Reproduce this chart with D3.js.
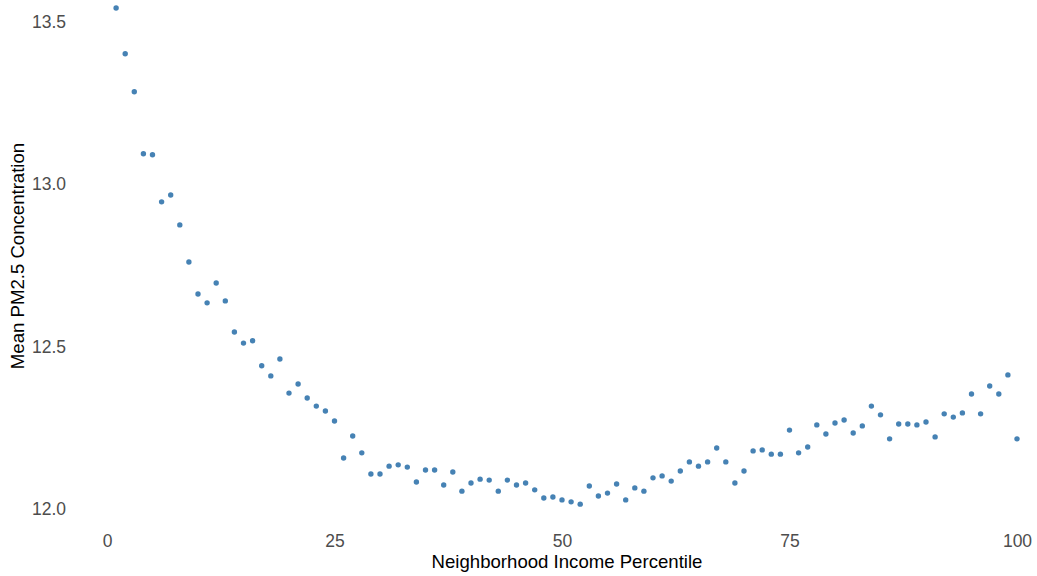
<!DOCTYPE html>
<html>
<head>
<meta charset="utf-8">
<script src="https://cdn.jsdelivr.net/npm/d3@7"></script>
<style>
  html, body { margin: 0; padding: 0; background: #fff; }
  svg { display: block; }
</style>
</head>
<body>
<svg id="chart" width="1037" height="576"></svg>
<script>
// Data
const percentiles = d3.range(1, 101);
const pm25 = [
  13.543, 13.402, 13.285, 13.094, 13.091, 12.946, 12.967, 12.875, 12.761, 12.662,
  12.635, 12.696, 12.641, 12.545, 12.511, 12.518, 12.441, 12.410, 12.462, 12.357,
  12.385, 12.342, 12.317, 12.302, 12.271, 12.157, 12.225, 12.173, 12.108, 12.108,
  12.132, 12.136, 12.129, 12.083, 12.120, 12.120, 12.074, 12.114, 12.055, 12.080,
  12.092, 12.089, 12.055, 12.089, 12.074, 12.080, 12.059, 12.034, 12.037, 12.028,
  12.022, 12.015, 12.071, 12.040, 12.049, 12.077, 12.028, 12.065, 12.055, 12.096,
  12.102, 12.086, 12.117, 12.145, 12.132, 12.145, 12.188, 12.145, 12.080, 12.117,
  12.179, 12.182, 12.169, 12.169, 12.243, 12.173, 12.191, 12.259, 12.231, 12.265,
  12.274, 12.234, 12.256, 12.317, 12.290, 12.216, 12.262, 12.262, 12.259, 12.268,
  12.222, 12.293, 12.283, 12.296, 12.354, 12.293, 12.379, 12.354, 12.413, 12.216
];
const xTicks = [0, 25, 50, 75, 100];
const yTicks = [12.0, 12.5, 13.0, 13.5];
const xTitle = "Neighborhood Income Percentile";
const yTitle = "Mean PM2.5 Concentration";

const svg = d3.select("#chart");
const font = "'Liberation Sans', Arial, sans-serif";

const x = d3.scaleLinear().domain([0, 100]).range([107, 1017]);
const y = d3.scaleLinear().domain([12.0, 13.5]).range([509, 22]);

// X axis
const xAxis = svg.append("g")
  .attr("transform", "translate(0,530)")
  .call(d3.axisBottom(x).tickValues(xTicks).tickFormat(d3.format("d")).tickSize(0).tickPadding(5));
xAxis.select(".domain").remove();
xAxis.selectAll("text")
  .attr("fill", "#4D4D4D")
  .style("font-family", font)
  .style("font-size", "17.5px");

// Y axis
const yAxis = svg.append("g")
  .attr("transform", "translate(70,0)")
  .call(d3.axisLeft(y).tickValues(yTicks).tickFormat(d3.format(".1f")).tickSize(0).tickPadding(4));
yAxis.select(".domain").remove();
yAxis.selectAll("text")
  .attr("fill", "#4D4D4D")
  .style("font-family", font)
  .style("font-size", "17.5px");

// Points
svg.append("g")
  .selectAll("circle")
  .data(percentiles.map((p, i) => ({ p, v: pm25[i] })))
  .join("circle")
  .attr("cx", d => x(d.p))
  .attr("cy", d => y(d.v))
  .attr("r", 2.7)
  .attr("fill", "#4682B4");

// Axis titles
svg.append("text")
  .attr("x", 567)
  .attr("y", 568)
  .attr("text-anchor", "middle")
  .attr("fill", "#000")
  .style("font-family", font)
  .style("font-size", "18.6px")
  .text(xTitle);

svg.append("text")
  .attr("transform", "translate(24,256) rotate(-90)")
  .attr("text-anchor", "middle")
  .attr("fill", "#000")
  .style("font-family", font)
  .style("font-size", "18.6px")
  .text(yTitle);
</script>
</body>
</html>
